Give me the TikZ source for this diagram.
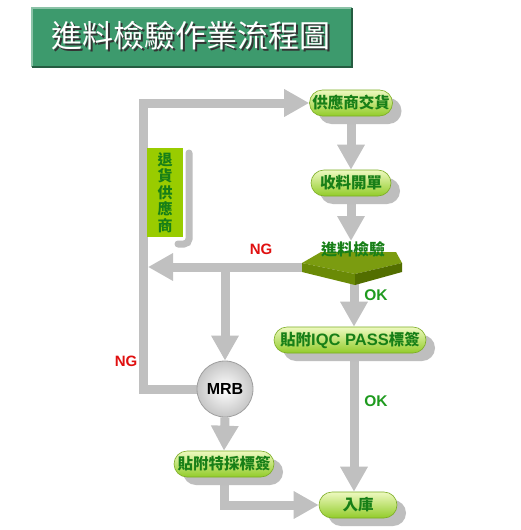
\documentclass[tikz,border=0pt]{standalone}
\usepackage{fontspec}
\setmainfont{Liberation Sans}
\newfontfamily\cjk{Noto Sans CJK TC}
\newfontfamily\latf{Liberation Sans}
\usetikzlibrary{arrows.meta,shapes.misc,shadows,calc}
\pgfdeclarelayer{bg}
\pgfdeclarelayer{paper}
\pgfsetlayers{paper,bg,main}
\definecolor{conn}{HTML}{C0C0C0}
\definecolor{pilltop}{HTML}{EEF9C0}
\definecolor{pillbot}{HTML}{92CC2A}
\definecolor{pilltxt}{HTML}{177F17}
\definecolor{titlegreen}{HTML}{3D9A6D}
\definecolor{okgreen}{HTML}{1E9A1E}
\definecolor{ngred}{HTML}{E01010}
\definecolor{boxgreen}{HTML}{99CC00}
\definecolor{dtop}{HTML}{7B9C10}
\definecolor{dleft}{HTML}{6A8A06}
\definecolor{dright}{HTML}{526E00}
\definecolor{shad}{HTML}{BEBEBE}
\tikzset{
  pill/.style={shape=rounded rectangle, minimum height=26pt, inner xsep=6pt, inner ysep=0pt,
    top color=pilltop, bottom color=pillbot, draw=pillbot!85!black, line width=0.6pt,
    text=pilltxt, font=\cjk\bfseries\fontsize{15.5}{16}\selectfont,
    drop shadow={shadow xshift=9pt, shadow yshift=-8pt, fill=shad, opacity=1}},
  connline/.style={draw=conn, line width=9pt, line join=miter},
  arr/.style={connline, -{Triangle[length=25pt,width=26pt]}},
  nglabel/.style={text=ngred, font=\latf\bfseries\fontsize{15}{15}\selectfont, inner sep=0pt},
  oklabel/.style={text=okgreen, font=\latf\bfseries\fontsize{15.5}{15.5}\selectfont, inner sep=0pt},
}
\begin{document}
\begin{tikzpicture}[x=1pt,y=-1pt]
\useasboundingbox (0,0) rectangle (520,530);
\begin{pgfonlayer}{paper}
\fill[white] (0,0) rectangle (520,530);
\end{pgfonlayer}

% title
\node[fill=titlegreen, minimum width=320pt, minimum height=59pt, inner sep=0pt] (tbox) at (192,37.5) {};
\draw[titlegreen!60!white, line width=1.5pt] (tbox.south west) -- (tbox.north west) -- (tbox.north east);
\draw[titlegreen!60!black, line width=1.5pt] (tbox.north east) -- (tbox.south east) -- (tbox.south west);
\node[text=black!80, font=\cjk\fontsize{31}{31}\selectfont, inner sep=0pt] (tshadow) at (192.5,37.5) {進料檢驗作業流程圖};
\node[text=white, font=\cjk\fontsize{31}{31}\selectfont, inner sep=0pt] (ttext) at (191,36) {進料檢驗作業流程圖};

% return box with shadow
\draw[shad, line width=7pt, line cap=round, rounded corners=5pt] (189,153) -- (189,244) -- (178,244);
\node[fill=boxgreen, minimum width=36pt, minimum height=89pt, inner sep=0pt, align=center,
  text=pilltxt, font=\cjk\bfseries\fontsize{15}{16.4}\selectfont] (ret) at (165,192.5) {退\\貨\\供\\應\\商};

% pills
\node[pill, minimum width=95pt] (sup) at (351,103) {供應商交貨};
\node[pill, minimum width=92pt] (shou) at (351,183) {收料開單};
\node[pill, minimum width=164pt] (iqc) at (350,340) {貼附{\latf\bfseries\fontsize{16.5}{16}\selectfont IQC PASS}標簽};
\node[pill, minimum width=112pt] (tecai) at (224,464) {貼附特採標簽};
\node[pill, minimum width=90pt] (ruku) at (358,505) {入庫};

% MRB
\node[circle, minimum size=56pt, inner sep=0pt, inner color=white, outer color=gray!45, draw=gray!75,
  line width=0.8pt, font=\latf\bfseries\fontsize{16}{16}\selectfont] (mrb) at (225,389) {MRB};

% decision
\fill[dtop] (302,263) -- (321,252) -- (396,252) -- (402,263) -- (355,274) -- cycle;
\fill[dleft] (302,263) -- (355,274) -- (355,285) -- (302,272) -- cycle;
\fill[dright] (355,274) -- (402,263) -- (402,272) -- (355,285) -- cycle;
\node[text=pilltxt, font=\cjk\bfseries\fontsize{16}{16}\selectfont, inner sep=0pt] (chk) at (353,249) {進料檢驗};
\coordinate (dL) at (302,267);
\coordinate (dB) at (354,284);
\coordinate (dT) at (351,241);
\coordinate (nglt) at (148,267);
\coordinate (lc) at (143,103);
\coordinate (br) at (mrb.north |- dL);

% labels
\node[nglabel] (ng1) at (261,249) {NG};
\node[nglabel] (ng2) at (126,361) {NG};
\node[oklabel] (ok1) at (376,295) {OK};
\node[oklabel] (ok2) at (376,401) {OK};

% connectors
\begin{pgfonlayer}{bg}
\draw[arr] (sup.south) -- (shou.north);
\draw[arr] (shou.south) -- (dT);
\draw[arr] (dB) -- (dB |- iqc.north);
\draw[arr] ($(iqc.south)+(4,0)$) -- ($(ruku.north)+(-4,0)$);
\draw[arr] (dL) -- (nglt);
\draw[arr] (br) -- (mrb.north);
\draw[arr] (mrb.south) -- (tecai.north);
\draw[arr] (tecai.south) |- (ruku.west);
\draw[arr] (mrb.west) -| (lc) -- (sup.west);
\end{pgfonlayer}
\end{tikzpicture}
\end{document}
